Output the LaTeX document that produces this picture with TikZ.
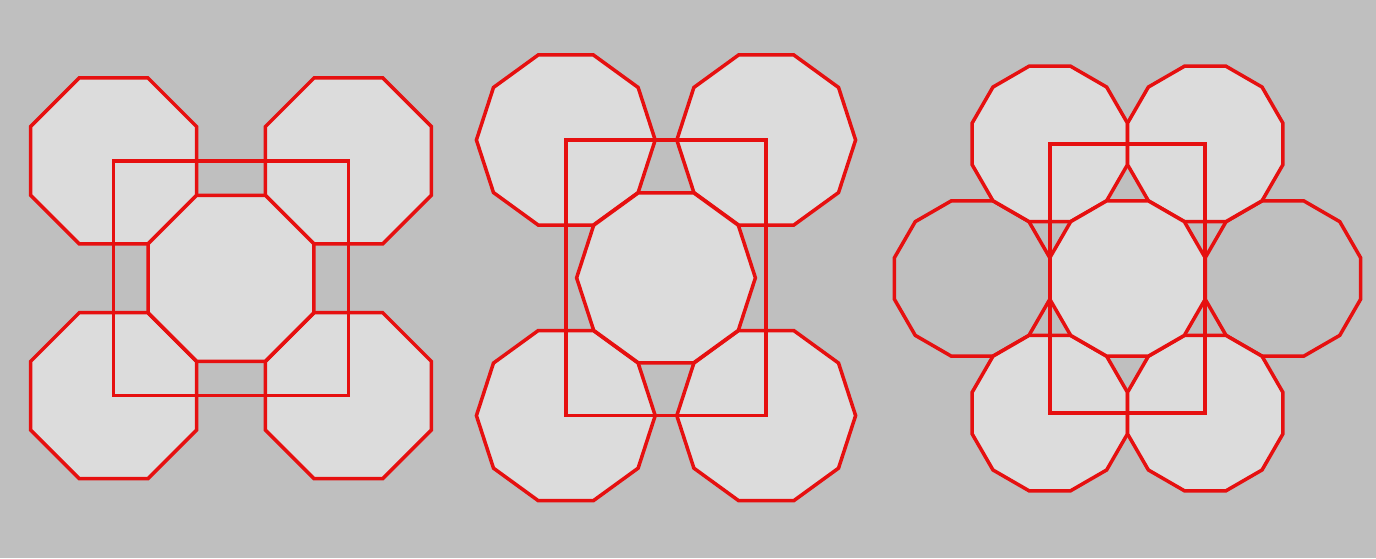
\documentclass[tikz,border=0pt]{standalone}
\usetikzlibrary{calc}
\definecolor{bg}{RGB}{191,191,191}
\definecolor{tile}{RGB}{220,220,220}
\definecolor{edge}{RGB}{230,16,16}
\tikzset{
  outline/.style={draw=edge,line width=3.5pt,line join=miter},
  filled/.style={outline,fill=tile},
  pics/ngon/.style n args={4}{code={%
    \pgfmathtruncatemacro\nm{#1-1}%
    \path[#4] (#3:#2) \foreach \k in {1,...,\nm} {-- (#3+\k*360/#1:#2)} -- cycle;
  }}
}
\begin{document}
\begin{tikzpicture}[x=1pt,y=-1pt]
\fill[bg] (0,0) rectangle (1376,558);
\useasboundingbox (0,0) rectangle (1376,558);
% ---- group 1: octagons ----
\coordinate (oc) at (231,278.3);
\foreach \dx/\dy [count=\i] in {-117.4/-117.4,117.4/-117.4,-117.4/117.4,117.4/117.4}
  \pic at ($(oc)+(\dx,\dy)$) {ngon={8}{89.8}{22.5}{filled}};
\pic at (oc) {ngon={8}{89.8}{22.5}{filled}};
\coordinate (r1a) at ($(oc)+(-117.4,-117.4)$);
\coordinate (r1b) at ($(oc)+(117.4,117.4)$);
\draw[outline] (r1a) rectangle (r1b);
% ---- group 2: decagons ----
\coordinate (dc) at (666,277.8);
\foreach \dx/\dy in {-100.2/-137.8,100.2/-137.8,-100.2/137.8,100.2/137.8}
  \pic at ($(dc)+(\dx,\dy)$) {ngon={10}{89.4}{0}{filled}};
\pic at (dc) {ngon={10}{89.4}{0}{filled}};
\coordinate (r2a) at ($(dc)+(-100.2,-137.8)$);
\coordinate (r2b) at ($(dc)+(100.2,137.8)$);
\draw[outline] (r2a) rectangle (r2b);
% ---- group 3: dodecagons ----
\coordinate (gc) at (1127.5,278.5);
\pic at ($(gc)+(-155.4,0)$) {ngon={12}{80.4}{15}{outline}};
\pic at ($(gc)+(155.4,0)$) {ngon={12}{80.4}{15}{outline}};
\foreach \dx/\dy in {-77.7/-134.6,77.7/-134.6,-77.7/134.6,77.7/134.6}
  \pic at ($(gc)+(\dx,\dy)$) {ngon={12}{80.4}{15}{filled}};
\pic at (gc) {ngon={12}{80.4}{15}{filled}};
\coordinate (r3a) at ($(gc)+(-77.7,-134.6)$);
\coordinate (r3b) at ($(gc)+(77.7,134.6)$);
\draw[outline] (r3a) rectangle (r3b);
\end{tikzpicture}
\end{document}
